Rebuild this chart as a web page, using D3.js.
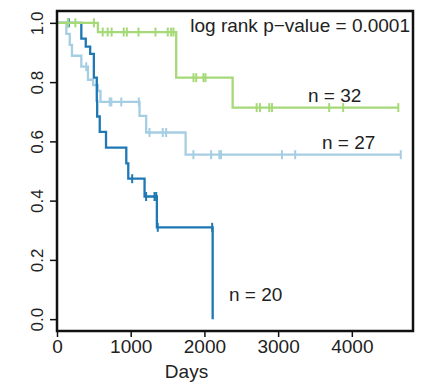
<!DOCTYPE html>
<html>
<head>
<meta charset="utf-8">
<script src="https://cdn.jsdelivr.net/npm/d3@7/dist/d3.min.js"></script>
<style>
  html, body { margin: 0; padding: 0; background: #fff; }
  svg text { font-family: "Liberation Sans", Arial, sans-serif; fill: #222; }
</style>
</head>
<body>
<svg id="km" width="424" height="384"></svg>
<script>
// Kaplan–Meier survival curves, three groups.
const groupLabels = ["n = 32", "n = 27", "n = 20"];
const groupColors = ["#a6d978", "#a6cee3", "#1f78b4"];

// Step points: [day, survival]
const greenSteps = [[0, 1], [555, 0.969], [1617, 0.815], [2383, 0.714]];
const greenEnd = 4631;
const greenCensor = [149, 249, 501, 620, 687, 741, 905, 948, 1106, 1336, 1503, 1549, 1580,
                     1852, 1889, 1987, 2014, 2709, 2754, 2880, 2917, 3693, 3882, 4631];

const lightSteps = [[0, 1], [127, 0.963], [173, 0.926], [203, 0.889], [330, 0.852],
                    [420, 0.808], [490, 0.79], [555, 0.77], [590, 0.733], [1120, 0.686],
                    [1210, 0.63], [1745, 0.555]];
const lightEnd = 4664;
const lightCensor = [397, 540, 715, 737, 872, 1110, 1255, 1435, 1481, 1851, 2091, 2203,
                     2226, 3052, 3232, 4664];

const darkSteps = [[0, 1], [330, 0.947], [390, 0.92], [450, 0.895], [500, 0.815],
                   [540, 0.737], [545, 0.684], [580, 0.632], [665, 0.579], [940, 0.526],
                   [967, 0.474], [1188, 0.414], [1355, 0.31], [2112, 0]];
const darkEnd = 2112;
const darkCensor = [160, 1020, 1209, 1323, 1346, 1367, 2105];

const xTicks = [0, 1000, 2000, 3000, 4000];
const yTicks = [0, 0.2, 0.4, 0.6, 0.8, 1.0];
const pText = "log rank p\u2212value = 0.0001";

const svg = d3.select("#km");
const box = { left: 57, right: 413, top: 11, bottom: 331 };

const x = d3.scaleLinear().domain([0, 4830]).range([box.left, box.right]);
const y = d3.scaleLinear().domain([-0.04, 1.04]).range([box.bottom, box.top]);

// Axes
const xAxis = d3.axisBottom(x).tickValues(xTicks).tickSize(6).tickPadding(3)
  .tickFormat(d3.format("d"));
const gx = svg.append("g").attr("transform", `translate(0,${box.bottom})`).call(xAxis);
gx.select(".domain").remove();
gx.selectAll(".tick line").attr("stroke", "#111").attr("stroke-width", 1.5);
gx.selectAll(".tick text").attr("font-size", 19).style("font-family", null).attr("fill", "#222");

const yAxis = d3.axisLeft(y).tickValues(yTicks).tickSize(7).tickFormat(d3.format(".1f"));
const gy = svg.append("g").attr("transform", `translate(${box.left},0)`).call(yAxis);
gy.select(".domain").remove();
gy.selectAll(".tick line").attr("stroke", "#111").attr("stroke-width", 1.5);
gy.selectAll(".tick text")
  .attr("font-size", 17)
  .attr("text-anchor", "middle")
  .attr("x", 0).attr("dy", null).attr("y", 0)
  .attr("transform", "translate(-14,0) rotate(-90)")
  .attr("dominant-baseline", "auto");

// Step curves
const line = d3.line().x(d => x(d[0])).y(d => y(d[1])).curve(d3.curveStepAfter);

function survAt(steps, t) {
  let s = steps[0][1];
  for (const [d, v] of steps) { if (d <= t) s = v; }
  return s;
}

const curves = [
  { steps: lightSteps, end: lightEnd, censor: lightCensor, color: groupColors[1] },
  { steps: darkSteps, end: darkEnd, censor: darkCensor, color: groupColors[2] },
  { steps: greenSteps, end: greenEnd, censor: greenCensor, color: groupColors[0] }
];

curves.forEach(c => {
  const last = c.steps[c.steps.length - 1];
  const pts = c.end > last[0] ? c.steps.concat([[c.end, last[1]]]) : c.steps;
  const g = svg.append("g");
  g.append("path").attr("d", line(pts)).attr("fill", "none")
    .attr("stroke", c.color).attr("stroke-width", 2.3);
  g.selectAll("line.cens").data(c.censor).join("line")
    .attr("x1", d => x(d)).attr("x2", d => x(d))
    .attr("y1", d => y(survAt(c.steps, d)) - 4.5)
    .attr("y2", d => y(survAt(c.steps, d)) + 4.5)
    .attr("stroke", c.color).attr("stroke-width", 2);
});

// Frame
svg.append("rect").attr("x", box.left).attr("y", box.top)
  .attr("width", box.right - box.left).attr("height", box.bottom - box.top)
  .attr("fill", "none").attr("stroke", "#111").attr("stroke-width", 2.5);

// Annotations
svg.append("text").attr("x", 410).attr("y", 31.5).attr("text-anchor", "end")
  .attr("font-size", 19).text(pText);
svg.append("text").attr("x", 308).attr("y", 101.5).attr("font-size", 19).text(groupLabels[0]);
svg.append("text").attr("x", 322).attr("y", 149).attr("font-size", 19).text(groupLabels[1]);
svg.append("text").attr("x", 229).attr("y", 301).attr("font-size", 19).text(groupLabels[2]);

svg.append("text").attr("x", 186.5).attr("y", 378).attr("text-anchor", "middle")
  .attr("font-size", 19).text("Days");
</script>
</body>
</html>
